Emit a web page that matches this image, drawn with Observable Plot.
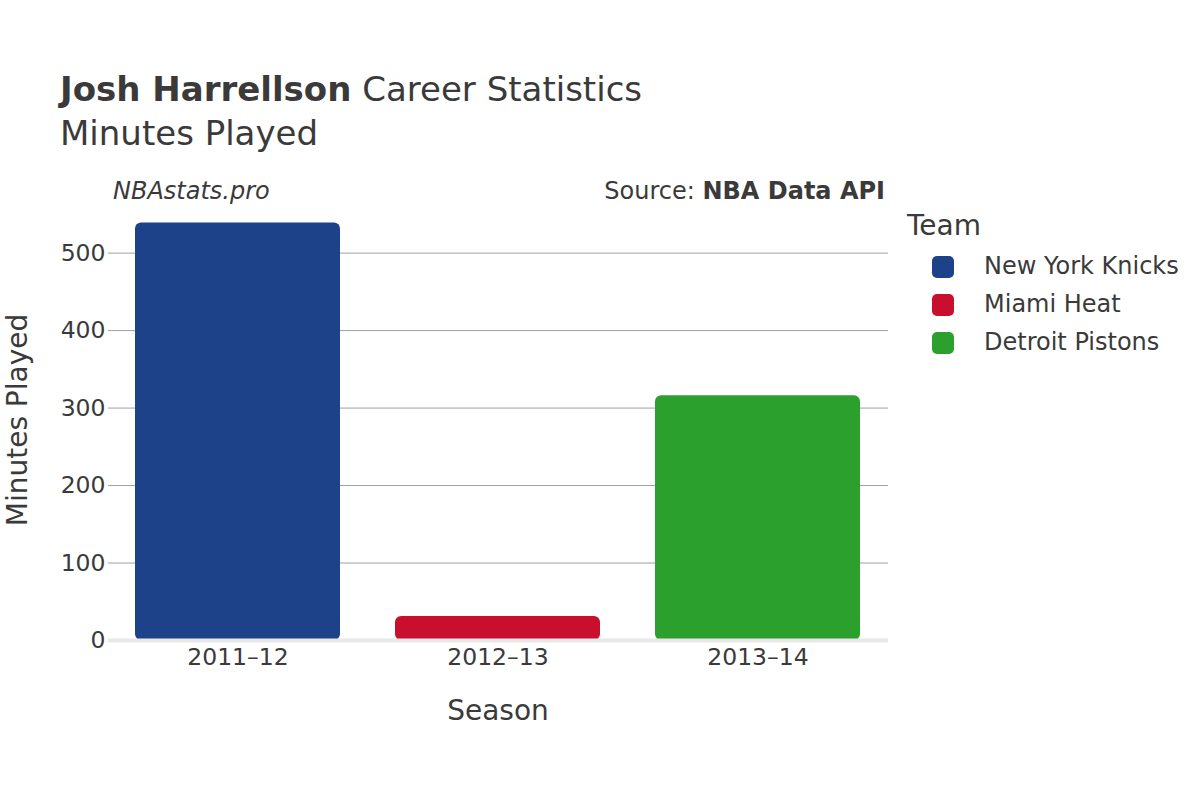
<!DOCTYPE html>
<html><head><meta charset="utf-8">
<script src="https://cdn.jsdelivr.net/npm/d3@7"></script>
<script src="https://cdn.jsdelivr.net/npm/@observablehq/plot@0.6"></script>
<style>
body{margin:0;background:#fff;font-family:"DejaVu Sans",sans-serif;color:#333;}
#wrap{position:relative;width:1200px;height:800px;overflow:hidden;}
.t{position:absolute;white-space:nowrap;color:#3a3a3a;}
#wrap svg text{font-size:23.5px;}
</style></head><body>
<div id="wrap"></div>
<script>
const seasons = ["2011–12", "2012–13", "2013–14"];
const teams = ["New York Knicks", "Miami Heat", "Detroit Pistons"];
const minutes = [539, 31, 316];
const teamColors = ["#1d428a", "#c8102e", "#2ca02c"];
const yTicks = [0, 100, 200, 300, 400, 500];

const data = seasons.map((s, i) => ({season: s, team: teams[i], minutes: minutes[i]}));

const plot = Plot.plot({
  width: 1200, height: 800,
  marginLeft: 108, marginRight: 312, marginTop: 210, marginBottom: 160,
  style: {fontFamily: "DejaVu Sans, sans-serif", color: "#3a3a3a", background: "transparent", fontSize: "23.5px"},
  x: {domain: seasons, paddingInner: 0.21, paddingOuter: 0.1, label: null},
  y: {domain: [0, 555], label: null},
  color: {domain: teams, range: teamColors},
  marks: [
    Plot.gridY(yTicks.filter(d => d > 0), {stroke: "#a0a0a0", strokeOpacity: 1, strokeWidth: 1}),
    Plot.barY(data, {x: "season", y: "minutes", fill: "team", rx: 6}),
    Plot.ruleY([0], {stroke: "#e8e8e8", strokeWidth: 4}),
    Plot.axisY({ticks: yTicks, tickSize: 0, tickPadding: 3, label: null}),
    Plot.axisX({tickSize: 0, tickPadding: 8, label: null})
  ]
});
const wrap = document.getElementById("wrap");
plot.style.position = "absolute";
plot.style.left = "0"; plot.style.top = "0";
wrap.appendChild(plot);

function addText(html, css) {
  const d = document.createElement("div");
  d.className = "t";
  d.innerHTML = html;
  Object.assign(d.style, css);
  wrap.appendChild(d);
  return d;
}
addText('<b>Josh Harrellson</b> Career Statistics', {left: "60px", top: "69px", fontSize: "34px"});
addText('Minutes Played', {left: "60px", top: "113px", fontSize: "34px"});
addText('<i>NBAstats.pro</i>', {left: "113px", top: "177px", fontSize: "24px"});
addText('Source: <b>NBA Data API</b>', {right: "315px", top: "177px", fontSize: "24px"});
addText('Season', {left: "498px", top: "694px", fontSize: "28px", transform: "translateX(-50%)"});
addText('Minutes Played', {left: "17px", top: "420px", fontSize: "28px", transform: "translate(-50%,-50%) rotate(-90deg)"});
addText('Team', {left: "907px", top: "209px", fontSize: "28px"});
teams.forEach((t, i) => {
  const y = 267 + i * 38;
  const sw = document.createElement("div");
  Object.assign(sw.style, {position: "absolute", left: "932px", top: (y - 11) + "px", width: "22px", height: "22px", borderRadius: "5px", background: teamColors[i]});
  wrap.appendChild(sw);
  addText(t, {left: "984px", top: (y - 15) + "px", fontSize: "24px"});
});
</script>
</body></html>
